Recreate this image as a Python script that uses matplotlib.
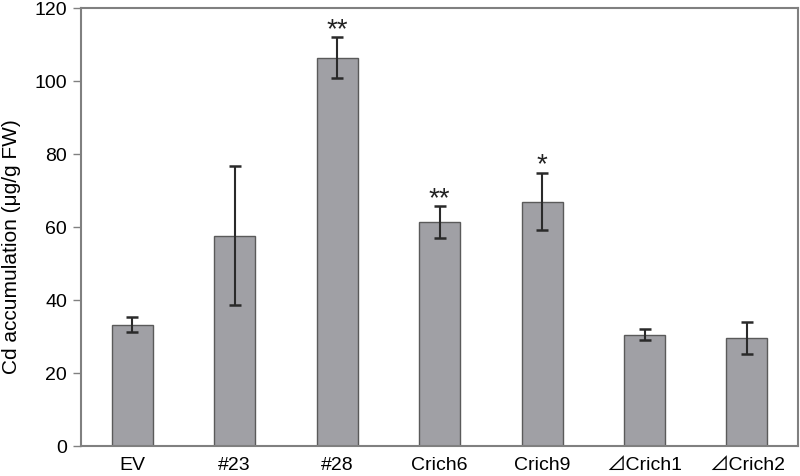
import matplotlib
matplotlib.use("Agg")
import matplotlib.pyplot as plt

categories = ["EV", "#23", "#28", "Crich6", "Crich9", "\u22bfCrich1", "\u22bfCrich2"]
values = [33.2, 57.6, 106.2, 61.2, 66.9, 30.4, 29.5]
errors = [2.0, 19.0, 5.6, 4.4, 7.9, 1.5, 4.4]
stars = ["", "", "**", "**", "*", "", ""]
yticks = [0, 20, 40, 60, 80, 100, 120]

plt.rcParams['font.family'] = ['Liberation Sans', 'Noto Sans CJK JP', 'DejaVu Sans']

fig = plt.figure(figsize=(8, 4.77), dpi=100)
ax = fig.add_axes([0.10125, 0.0629, 0.8965, 0.9192])

x = list(range(len(categories)))
ax.bar(x, values, width=0.40, color="#a0a0a5", edgecolor="#5a5a5a", linewidth=1.0, zorder=2)
ax.errorbar(x, values, yerr=errors, fmt="none", ecolor="#2a2a2a", elinewidth=1.5,
            capsize=4.5, capthick=1.8, zorder=3)
for xi, v, e, s in zip(x, values, errors, stars):
    if s:
        ax.text(xi, v + e + 0.4, s, ha="center", va="baseline", fontsize=20, color="#222222")

ax.set_xlim(-0.5, 6.5)
ax.set_ylim(0, 120)
ax.set_yticks(yticks)
ax.set_xticks(x)
ax.set_xticklabels(categories, fontsize=14)
ax.tick_params(axis="x", length=0, pad=7)
ax.tick_params(axis="y", length=6, width=1.0, color="#808080", labelsize=14, pad=4, direction="out")
for sp in ax.spines.values():
    sp.set_color("#808080")
    sp.set_linewidth(1.5)
ax.set_ylabel("Cd accumulation (\u03bcg/g FW)", fontsize=15)
ax.yaxis.set_label_coords(-0.084, 0.457)

fig.savefig("out.png", dpi=100)
